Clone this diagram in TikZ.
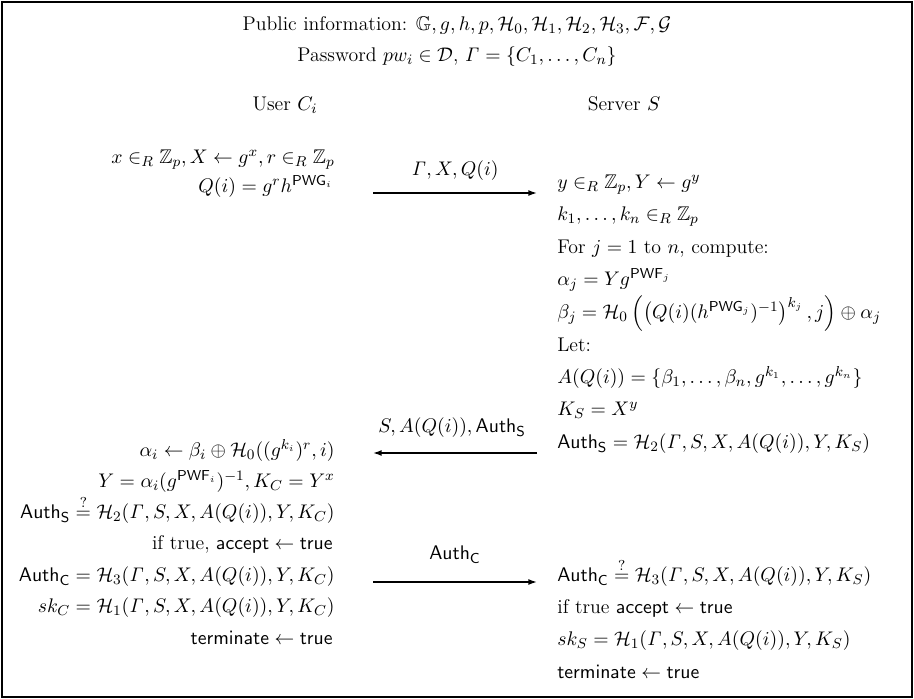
\documentclass[tikz,border=0pt]{standalone}
\usepackage{amsmath,amssymb}
\usetikzlibrary{arrows.meta,calc}
\tikzset{
  txt/.style={inner sep=0pt, font=\fontsize{11}{13}\selectfont, scale=1.35, transform shape},
  lft/.style={txt, anchor=mid east},
  rgt/.style={txt, anchor=mid west},
  ctr/.style={txt, anchor=mid},
  msg/.style={line width=1.1pt, -{Latex[length=6.5pt,width=4.5pt]}}
}
\newcommand{\Auth}[1]{\mathsf{Auth}_{\mathsf{#1}}}
\newcommand{\sfw}[1]{\mathsf{#1}}
\begin{document}
\begin{tikzpicture}[x=0.75pt,y=-0.75pt]
\useasboundingbox (0,0) rectangle (914,699);
\draw[line width=2.2pt] (2,2) rectangle (912,697);
% header
\node[ctr] (pub) at (457,27) {Public information: $\mathbb{G}, g, h, p, \mathcal{H}_0, \mathcal{H}_1, \mathcal{H}_2, \mathcal{H}_3, \mathcal{F}, \mathcal{G}$};
\node[ctr] (pw) at (457,58) {Password $pw_i \in \mathcal{D}$, $\mathit{\Gamma} = \{C_1, \ldots, C_n\}$};
\node[ctr] (user) at (285,107) {User $C_i$};
\node[ctr] (server) at (624,107) {Server $S$};
% left column
\node[lft] (l1) at (335,160) {$x \in_R \mathbb{Z}_p, X \leftarrow g^x, r \in_R \mathbb{Z}_p$};
\node[lft] (l2) at (333,189) {$Q(i) = g^r h^{\sfw{PWG}_i}$};
\node[lft] (l3) at (335,453) {$\alpha_i \leftarrow \beta_i \oplus \mathcal{H}_0((g^{k_i})^r, i)$};
\node[lft] (l4) at (335,484) {$Y = \alpha_i (g^{\sfw{PWF}_i})^{-1}, K_C = Y^x$};
\node[lft] (l5) at (335,515) {$\Auth{S} \stackrel{?}{=} \mathcal{H}_2(\mathit{\Gamma}, S, X, A(Q(i)), Y, K_C)$};
\node[lft] (l6) at (333,546) {if true, $\sfw{accept} \leftarrow \sfw{true}$};
\node[lft] (l7) at (335,578) {$\Auth{C} = \mathcal{H}_3(\mathit{\Gamma}, S, X, A(Q(i)), Y, K_C)$};
\node[lft] (l8) at (335,609) {$sk_C = \mathcal{H}_1(\mathit{\Gamma}, S, X, A(Q(i)), Y, K_C)$};
\node[lft] (l9) at (333,641) {$\sfw{terminate} \leftarrow \sfw{true}$};
% right column
\node[rgt] (r1) at (557,185) {$y \in_R \mathbb{Z}_p, Y \leftarrow g^y$};
\node[rgt] (r2) at (557,217) {$k_1, \ldots, k_n \in_R \mathbb{Z}_p$};
\node[rgt] (r3) at (557,250) {For $j = 1$ to $n$, compute:};
\node[rgt] (r4) at (557,282) {$\alpha_j = Y g^{\sfw{PWF}_j}$};
\node[rgt] (r5) at (557,315) {$\beta_j = \mathcal{H}_0\left(\left(Q(i)(h^{\sfw{PWG}_j})^{-1}\right)^{k_j}, j\right) \oplus \alpha_j$};
\node[rgt] (r6) at (557,348) {Let:};
\node[rgt] (r7) at (557,380) {$A(Q(i)) = \{\beta_1, \ldots, \beta_n, g^{k_1}, \ldots, g^{k_n}\}$};
\node[rgt] (r8) at (557,412) {$K_S = X^y$};
\node[rgt] (r9) at (557,445) {$\Auth{S} = \mathcal{H}_2(\mathit{\Gamma}, S, X, A(Q(i)), Y, K_S)$};
\node[rgt] (r10) at (557,578) {$\Auth{C} \stackrel{?}{=} \mathcal{H}_3(\mathit{\Gamma}, S, X, A(Q(i)), Y, K_S)$};
\node[rgt] (r11) at (557,610) {if true $\sfw{accept} \leftarrow \sfw{true}$};
\node[rgt] (r12) at (557,642) {$sk_S = \mathcal{H}_1(\mathit{\Gamma}, S, X, A(Q(i)), Y, K_S)$};
\node[rgt] (r13) at (557,675) {$\sfw{terminate} \leftarrow \sfw{true}$};
% messages
\coordinate (m1a) at (373,193); \coordinate (m1b) at (537,193);
\coordinate (m2a) at (537,453); \coordinate (m2b) at (373,453);
\coordinate (m3a) at (373,582); \coordinate (m3b) at (537,582);
\draw[msg] (m1a) -- (m1b);
\draw[msg] (m2a) -- (m2b);
\draw[msg] (m3a) -- (m3b);
\node[ctr] (t1) at ($(m1a)!0.5!(m1b)+(0,-21)$) {$\mathit{\Gamma}, X, Q(i)$};
\node[ctr] (t2) at ($(m2a)!0.5!(m2b)+(-3,-24)$) {$S, A(Q(i)), \Auth{S}$};
\node[ctr] (t3) at ($(m3a)!0.5!(m3b)+(0,-26)$) {$\Auth{C}$};
\end{tikzpicture}
\end{document}
